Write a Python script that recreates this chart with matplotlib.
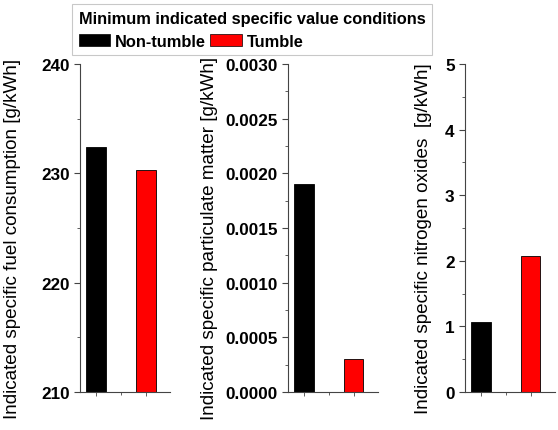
import matplotlib
matplotlib.use('Agg')
import matplotlib.pyplot as plt
from matplotlib.patches import Patch
from matplotlib.ticker import MultipleLocator

plt.rcParams['font.family'] = ['Liberation Sans', 'DejaVu Sans']

cases = ['Non-tumble', 'Tumble']
colors = ['black', 'red']
fuel = [232.4, 230.3]
pm = [0.0019, 0.0003]
nox = [1.07, 2.07]

ylabels = ['Indicated specific fuel consumption [g/kWh]',
           'Indicated specific particulate matter [g/kWh]',
           'Indicated specific nitrogen oxides  [g/kWh]']

fig = plt.figure(figsize=(5.58, 4.31), dpi=100)
lefts = [0.1434, 0.5161, 0.8333]
axes = [fig.add_axes([l, 0.0882, 0.162, 0.761]) for l in lefts]

datas = [fuel, pm, nox]
lims = [(210, 240), (0, 0.003), (0, 5)]
major = [10, 0.0005, 1]
minor = [5, 0.00025, 0.5]
fmts = ['%d', '%.4f', '%d']
labx = [-0.655, -0.77, -0.367]
xpos = [1, 2]

for ax, d, lim, mj, mn, f, lx, yl in zip(axes, datas, lims, major, minor, fmts, labx, ylabels):
    ax.bar(xpos, d, width=0.4, color=colors, edgecolor='black', linewidth=0.6)
    ax.set_ylim(lim)
    ax.set_xlim(0.68, 2.5)
    ax.yaxis.set_major_locator(MultipleLocator(mj))
    ax.yaxis.set_minor_locator(MultipleLocator(mn))
    ax.yaxis.set_major_formatter(matplotlib.ticker.FormatStrFormatter(f))
    ax.set_xticks(xpos)
    ax.set_xticks([1.5], minor=True)
    ax.set_xticklabels([])
    for s in ['top', 'right']:
        ax.spines[s].set_visible(False)
    for s in ['left', 'bottom']:
        ax.spines[s].set_color('#444444')
        ax.spines[s].set_linewidth(0.8)
    ax.tick_params(axis='y', which='major', length=4, width=0.8, color='#444444', labelsize=12.3)
    ax.tick_params(axis='y', which='minor', length=2, width=0.6, color='#444444')
    ax.tick_params(axis='x', which='major', length=3, width=0.6, color='#444444')
    ax.tick_params(axis='x', which='minor', length=2, width=0.6, color='#444444')
    for t in ax.get_yticklabels():
        t.set_fontweight('bold')
    ax.set_ylabel(yl, fontsize=13.6)
    ax.yaxis.set_label_coords(lx, 0.47)

handles = [Patch(facecolor=c, edgecolor='black', linewidth=0.5) for c in colors]
leg = fig.legend(handles, cases, ncol=2, loc='upper left',
                 bbox_to_anchor=(72 / 558, 1 - 5 / 431),
                 title='Minimum indicated specific value conditions',
                 alignment='left', frameon=True, fancybox=False,
                 handlelength=1.9, handleheight=0.75, handletextpad=0.3,
                 columnspacing=0.3, borderpad=0.4, borderaxespad=0,
                 prop={'weight': 'bold', 'size': 11.8},
                 title_fontproperties={'weight': 'bold', 'size': 11.8})
leg.get_frame().set_edgecolor('#bbbbbb')
leg.get_frame().set_linewidth(0.8)

fig.savefig('out.png', dpi=100)
